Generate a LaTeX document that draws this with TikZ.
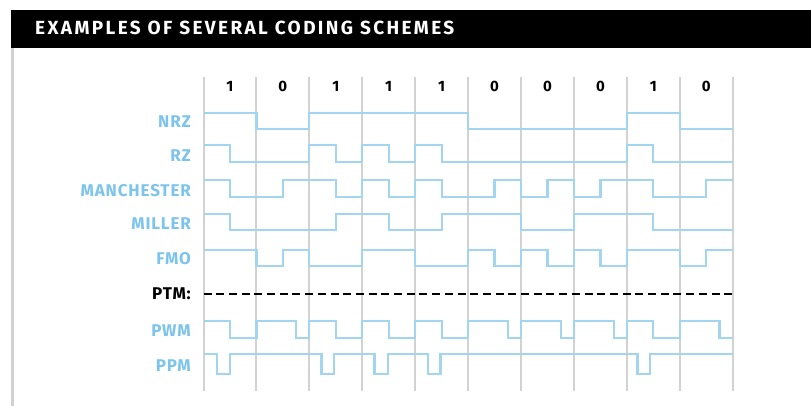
\documentclass[tikz,border=0pt]{standalone}
\usepackage{fontspec}
\setmainfont{Fira Sans}
\definecolor{codeblue}{RGB}{125,196,236}
\definecolor{waveblue}{RGB}{163,212,240}
\definecolor{gridgray}{RGB}{210,210,210}

\begin{document}
\begin{tikzpicture}[x=1pt,y=-1pt,
    wave/.style={waveblue,line width=2.2pt},
    gridline/.style={gridgray,line width=2pt},
    schemelabel/.style={anchor=east,inner sep=0pt,text=codeblue,font=\fontsize{17}{18}\selectfont\bfseries\addfontfeature{LetterSpace=5}},
    bitlabel/.style={inner sep=0pt,font=\fontsize{15}{16}\selectfont\bfseries}]
    \useasboundingbox (0,0) rectangle (811,406);

    \fill[black] (11,10) rectangle (811,48);
    \node[anchor=base west,inner sep=0pt,text=white,font=\fontsize{19}{20}\selectfont\bfseries\addfontfeature{LetterSpace=12.5}] (title) at (35,34.5) {EXAMPLES OF SEVERAL CODING SCHEMES};
    \draw[gridgray,line width=2.5pt] (12.5,48) -- (12.5,406);

    \node[schemelabel] (nrz) at (191,121.5) {NRZ};
    \node[schemelabel] (rz) at (191,155.5) {RZ};
    \node[schemelabel] (manchester) at (191,190.5) {MANCHESTER};
    \node[schemelabel] (miller) at (191,223.5) {MILLER};
    \node[schemelabel] (fmo) at (191,258.5) {FMO};
    \node[schemelabel,text=black] (ptm) at (191,294) {PTM:};
    \node[schemelabel] (pwm) at (191,330.5) {PWM};
    \node[schemelabel] (ppm) at (191,366) {PPM};

    \begin{scope}[shift={(203.5,0)},x=52.92pt]
      \foreach \i in {0,...,10}
        \draw[gridline] (\i,77) -- (\i,391);
      \foreach \b [count=\i from 0] in {1,0,1,1,1,0,0,0,1,0}
        \node[bitlabel] (bit\i) at (\i+0.5,86.7) {\b};

      % NRZ
      \draw[wave] (0,112.7) -| (1,129.3) -| (2,112.7) -| (5,129.3) -| (8,112.7) -| (9,129.3) -- (10,129.3);
      % RZ
      \draw[wave] (0,145) -| (0.5,162.3) -| (2,145) -| (2.5,162.3) -| (3,145) -| (3.5,162.3) -| (4,145) -| (4.5,162.3) -| (8,145) -| (8.5,162.3) -- (10,162.3);
      % Manchester
      \draw[wave] (0,180) -| (0.5,197.3) -| (1.5,180) -| (2.5,197.3) -| (3,180) -| (3.5,197.3) -| (4,180) -| (4.5,197.3) -| (5.5,180) -| (6,197.3) -| (6.5,180) -| (7,197.3) -| (7.5,180) -| (8.5,197.3) -| (9.5,180) -- (10,180);
      % Miller
      \draw[wave] (0,214.3) -| (0.5,230) -| (2.5,214.3) -| (3.5,230) -| (4.5,214.3) -| (6,230) -| (7,214.3) -| (8.5,230) -- (10,230);
      % FM0
      \draw[wave] (0,250) -| (1,265.7) -| (1.5,250) -| (2,265.7) -| (3,250) -| (4,265.7) -| (5,250) -| (5.5,265.7) -| (6,250) -| (6.5,265.7) -| (7,250) -| (7.5,265.7) -| (8,250) -| (9,265.7) -| (9.5,250) -- (10,250);
      % PTM
      \draw[black,line width=2.5pt,dash pattern=on 8pt off 4.7pt] (0,294) -- (10,294);
      % PWM
      \draw[wave] (0,321) -| (0.5,337.7) -| (1,321) -| (1.75,337.7) -| (2,321) -| (2.5,337.7) -| (3,321) -| (3.5,337.7) -| (4,321) -| (4.5,337.7) -| (5,321) -| (5.75,337.7) -| (6,321) -| (6.75,337.7) -| (7,321) -| (7.75,337.7) -| (8,321) -| (8.5,337.7) -| (9,321) -| (9.75,337.7) -- (10,337.7);
      % PPM
      \draw[wave] (0,354.3) -| (0.25,374) -| (0.5,354.3) -| (2.23,374) -| (2.47,354.3) -| (3.23,374) -| (3.48,354.3) -| (4.24,374) -| (4.48,354.3) -| (8.2,374) -| (8.44,354.3) -- (10,354.3);
    \end{scope}
  \end{tikzpicture}
\end{document}
